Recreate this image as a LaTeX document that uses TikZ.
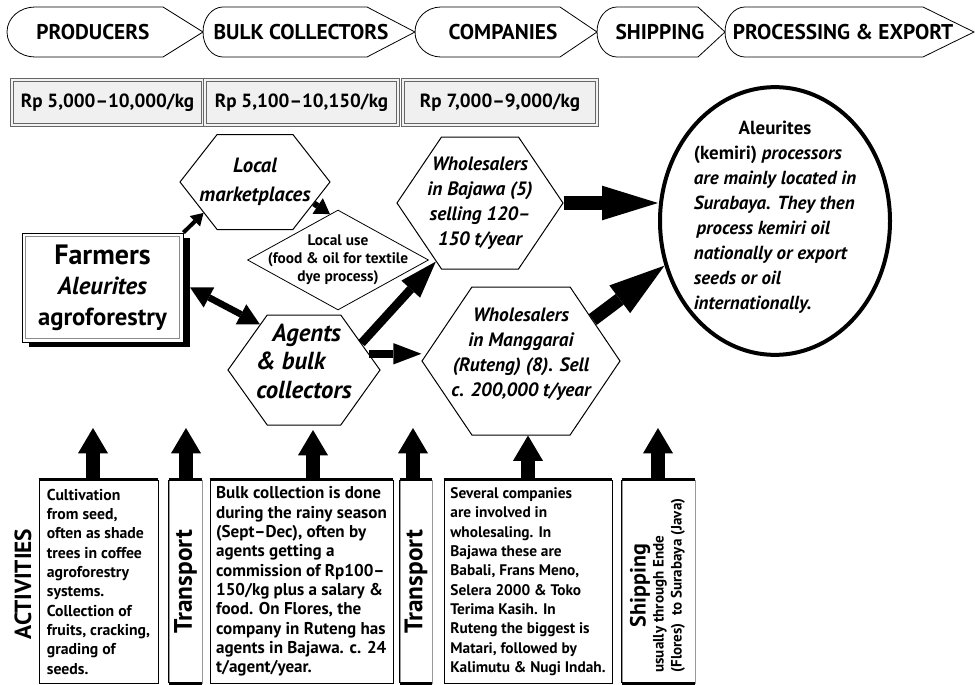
\documentclass[tikz,border=0pt]{standalone}
\usepackage{fontspec}
\setmainfont{PT Sans}
\usepackage{graphicx}
\usetikzlibrary{arrows.meta,shapes.geometric,shapes.symbols,shadows}

\begin{document}
\begin{tikzpicture}[x=0.75pt,y=-0.75pt,
    every node/.style={font=\bfseries},
    banner/.style={font=\fontsize{16}{18}\selectfont\bfseries},
    outline/.style={draw=black, line width=0.6pt},
    pricebox/.style={draw=black!60, double=black!5, double distance=2.2pt,
        line width=0.55pt, fill=black!6, minimum height=33.75pt,
        font=\fontsize{14.3}{16}\selectfont\bfseries},
    farmbox/.style={draw, line width=0.6pt, fill=white,
        minimum width=120.75pt, minimum height=81.75pt, align=center,
        font=\fontsize{18.5}{23}\selectfont\bfseries,
        drop shadow={shadow xshift=5pt, shadow yshift=-4pt, fill=black, opacity=1}},
    hexa/.style={signal, signal to=east and west, draw, line width=0.75pt,
        fill=white, inner xsep=-30pt, inner ysep=-10pt, align=center,
        font=\fontsize{14.5}{18.75}\selectfont\bfseries\itshape},
    actbox/.style={draw, line width=0.6pt, minimum height=152.25pt,
        align=left, inner sep=0pt,
        font=\fontsize{11.8}{14.5}\selectfont\bfseries},
    trbox/.style={draw=black!40, line width=0.6pt, minimum height=152.25pt,
        inner sep=0pt, font=\fontsize{19}{20}\selectfont\bfseries},
    topline/.style={line width=2.25pt},
    arrA/.style={line width=3pt, -{Triangle[length=9pt, width=11pt, line width=0pt]}},
    arrB/.style={line width=4.5pt, -{Triangle[length=11pt, width=14pt, line width=0pt]}},
    arrC/.style={line width=5pt, {Triangle[length=16pt, width=17pt, line width=0pt]}-{Triangle[length=16pt, width=17pt, line width=0pt]}},
    arrD/.style={line width=6.5pt, -{Triangle[length=28pt, width=19pt, line width=0pt]}},
    arrE/.style={line width=6pt, -{Triangle[length=21pt, width=16pt, line width=0pt]}},
    arrF/.style={line width=10pt, -{Triangle[length=42pt, width=26pt, line width=0pt]}},
    uparr/.style={line width=10.5pt, -{Triangle[length=19pt, width=22.5pt, line width=0pt]}}
  ]
  \useasboundingbox (0,0) rectangle (975,685);

  % banner across the top
  \foreach \xl/\ar/\xr/\xt in {7/28/163/203, 203/20/367/415, 415/26/560/597,
      597/20/698/725, 725/20/923/974}
    \draw[outline] (\xl+\ar,7) .. controls (\xl+0.45*\ar,7) and (\xl,18) .. (\xl,32)
      .. controls (\xl,46) and (\xl+0.45*\ar,57) .. (\xl+\ar,57)
      -- (\xr,57) -- (\xt,32) -- (\xr,7) -- cycle;
  \node[banner] (hprod) at (93,32) {PRODUCERS};
  \node[banner] (hbulk) at (301,32) {BULK COLLECTORS};
  \node[banner] (hcomp) at (503,32) {COMPANIES};
  \node[banner] (hship) at (660,32) {SHIPPING};
  \node[banner] (hproc) at (843,32) {PROCESSING \& EXPORT};

  % prices
  \node[pricebox, minimum width=143.25pt] (p1) at (107.5,102.5) {Rp 5,000–10,000/kg};
  \node[pricebox, minimum width=144.75pt] (p2) at (301.5,102.5) {Rp 5,100–10,150/kg};
  \node[pricebox, minimum width=145.5pt] (p3) at (500,102.5) {Rp 7,000–9,000/kg};

  % chain
  \node[farmbox] (farm) at (102.5,287.5)
    {{\fontsize{21}{23}\selectfont Farmers}\\\textit{Aleurites}\\agroforestry};
  \draw[black!45, line width=0.5pt] ([shift={(3pt,-3pt)}]farm.north west)
    rectangle ([shift={(-3pt,3pt)}]farm.south east);

  \node[hexa, signal pointer angle=104, minimum width=112.5pt, minimum height=71.25pt,
    font=\fontsize{15.5}{22}\selectfont\bfseries\itshape] (mkt) at (255,182)
    {Local\\marketplaces};
  \node[diamond, draw, line width=0.6pt, fill=white, minimum width=135.75pt,
    minimum height=71.25pt, inner xsep=-22pt, inner ysep=-12pt, align=center,
    font=\fontsize{11.5}{13.5}\selectfont\bfseries] (use) at (338,260)
    {Local use\\(food \& oil for textile\\dye process)};
  \node[hexa, signal pointer angle=109, minimum width=114pt, minimum height=82.5pt,
    font=\fontsize{18.5}{21.5}\selectfont\bfseries\itshape] (agt) at (304,370)
    {\raisebox{4.5pt}[\height][\depth]{\begin{tabular}{@{}l@{}}
      \hspace*{12pt}Agents\\\& bulk\\collectors\end{tabular}}};
  \node[hexa, signal pointer angle=112, minimum width=124.5pt, minimum height=99pt]
    (baj) at (480,203) {Wholesalers\\in Bajawa (5)\\selling 120–\\150 t/year};
  \node[hexa, signal pointer angle=112, minimum width=148.5pt, minimum height=111pt]
    (man) at (521,361)
    {\raisebox{5pt}[\height][\depth]{\begin{tabular}{@{}c@{}}
      Wholesalers\\in Manggarai\\(Ruteng) (8). Sell\\c. 200,000 t/year\end{tabular}}};
  \node[ellipse, draw, line width=3pt, fill=white, minimum width=172.5pt,
    minimum height=193.5pt, inner sep=-4pt,
    font=\fontsize{14.2}{18.75}\selectfont\bfseries\itshape] (proc) at (775,221)
    {\raisebox{3pt}[\height][\depth]{\begin{tabular}{@{}l@{}}
      \multicolumn{1}{@{}c@{}}{\upshape Aleurites}\\
      {\upshape (kemiri)} processors\\
      are mainly located in\\
      Surabaya. They then\\
      \hspace*{2pt}process kemiri oil\\
      nationally or export\\
      seeds or oil\\
      internationally.
    \end{tabular}}};

  \draw[arrA] (farm.north east) -- (mkt.211);
  \draw[arrB] (mkt.340) -- (use.100);
  \draw[arrC] ([xshift=5pt]farm.east) -- (agt.134);
  \draw[arrD] (agt.25) -- (baj.233);
  \draw[arrE] (agt.14) -- (agt.14 -| man.west);
  \draw[arrF] (baj.east) -- (baj.east -| proc.west);
  \draw[arrF] (man.30) -- (proc.202);

  % activities
  \node[rotate=90, font=\fontsize{17.5}{20}\selectfont\bfseries] (acts) at (23,584) {ACTIVITIES};
  \node[actbox, minimum width=89.25pt] (act1) at (98.5,581.5)
    {Cultivation\\from seed,\\often as shade\\trees in coffee\\agroforestry\\systems.\\Collection of\\fruits, cracking,\\grading of\\seeds.};
  \node[trbox, minimum width=24.75pt] (tr1) at (185.5,581.5) {\rotatebox{90}{Transport}};
  \node[actbox, minimum width=137.25pt, font=\fontsize{12.8}{14.5}\selectfont\bfseries] (act3) at (301.5,581.5)
    {Bulk collection is done\\during the rainy season\\(Sept–Dec), often by\\agents getting a\\commission of Rp100–\\150/kg plus a salary \&\\food. On Flores, the\\company in Ruteng has\\agents in Bajawa. c. 24\\t/agent/year.};
  \node[trbox, minimum width=24pt] (tr2) at (416,581.5) {\rotatebox{90}{Transport}};
  \node[actbox, minimum width=126pt, font=\fontsize{11.5}{14.5}\selectfont\bfseries] (act5) at (528,581.5)
    {Several companies\\are involved in\\wholesaling. In\\Bajawa these are\\Babali, Frans Meno,\\Selera 2000 \& Toko\\Terima Kasih. In\\Ruteng the biggest is\\Matari, followed by\\Kalimutu \& Nugi Indah.};
  \node[trbox, minimum width=54.75pt, font=\fontsize{11.3}{13.5}\selectfont\bfseries] (ship) at (658.5,581.5)
    {\rotatebox{90}{\begin{tabular}{@{}l@{\hspace{6pt}}}
      \multicolumn{1}{@{}c@{\hspace{6pt}}}{\fontsize{16.5}{16}\selectfont Shipping}\\
      usually through Ende\\
      (Flores)\ \ to Surabaya (Java)
    \end{tabular}}};
  \foreach \b in {act1, tr1, act3, tr2, act5, ship}
    \draw[topline] (\b.north west) -- (\b.north east);
  \foreach \b in {tr1, tr2, ship}
    \draw[topline] (\b.south west) -- (\b.south east);
  \foreach \b in {tr1, tr2, ship}
    \draw[line width=0.6pt] (\b.north west) -- (\b.south west);

  \coordinate (t1) at (93,428);
  \coordinate (t2) at (186,428);
  \coordinate (t3) at (313,430);
  \coordinate (t4) at (413,428);
  \coordinate (t6) at (658,428);
  \draw[uparr] (act1.north -| t1) -- (t1);
  \draw[uparr] (tr1.north -| t2) -- (t2);
  \draw[uparr] (act3.north -| t3) -- (t3);
  \draw[uparr] (tr2.north -| t4) -- (t4);
  \draw[uparr] (act5.north) -- (act5.north |- man.south);
  \draw[uparr] (ship.north -| t6) -- (t6);
\end{tikzpicture}
\end{document}
